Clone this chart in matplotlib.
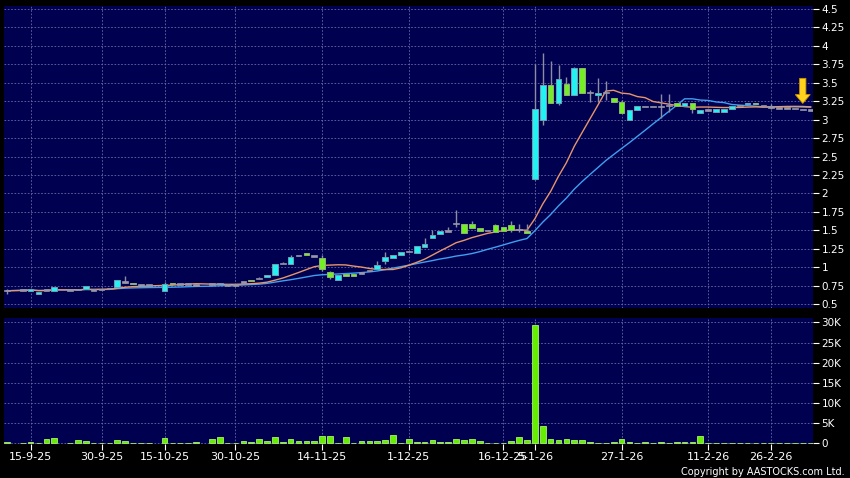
import numpy as np
import pandas as pd
import matplotlib
matplotlib.use("Agg")
import matplotlib.pyplot as plt
from matplotlib.patches import FancyArrow

# candle slot (position on the time axis), OHLC in price, volume in thousands
slot = [0, 2, 3, 4, 5, 6, 8, 9, 10, 11, 12, 13, 14, 15, 16, 17, 18, 20, 21, 22, 23, 24,
        26, 27, 28, 29, 30, 31, 32, 33, 34, 35, 36, 37, 38, 39, 40, 41, 42, 43, 44, 45,
        46, 47, 48, 49, 50, 51, 52, 53, 54, 55, 56, 57, 58, 59, 60, 61, 62, 63, 64, 65,
        66, 67, 68, 69, 70, 71, 72, 73, 74, 75, 76, 77, 78, 79, 80, 81, 82, 83, 84, 85,
        86, 87, 88, 89, 90, 91, 92, 93, 94, 95, 96, 97, 98, 99, 100, 101, 102]

open_ = [0.68, 0.69, 0.68, 0.63, 0.69, 0.67, 0.69, 0.70, 0.71, 0.69, 0.70, 0.71, 0.735, 0.80, 0.79, 0.76, 0.76, 0.68, 0.79, 0.77, 0.77, 0.76,
         0.77, 0.78, 0.76, 0.76, 0.80, 0.83, 0.85, 0.86, 0.90, 1.05, 1.04, 1.16, 1.19, 1.15, 1.13, 0.93, 0.83, 0.91, 0.91, 0.92,
         0.95, 0.97, 1.08, 1.13, 1.16, 1.21, 1.19, 1.27, 1.39, 1.45, 1.49, 1.59, 1.59, 1.58, 1.53, 1.50, 1.57, 1.55, 1.57, 1.51,
         1.49, 2.19, 3.00, 3.47, 3.22, 3.49, 3.33, 3.70, 3.37, 3.33, 3.37, 3.29, 3.24, 3.00, 3.13, 3.18, 3.18, 3.18, 3.19, 3.22,
         3.18, 3.22, 3.09, 3.13, 3.10, 3.10, 3.14, 3.19, 3.21, 3.23, 3.19, 3.17, 3.16, 3.16, 3.15, 3.14, 3.13]

high = [0.71, 0.69, 0.70, 0.66, 0.69, 0.73, 0.69, 0.71, 0.74, 0.69, 0.70, 0.71, 0.825, 0.88, 0.79, 0.76, 0.76, 0.80, 0.79, 0.77, 0.78, 0.76,
        0.77, 0.78, 0.76, 0.76, 0.80, 0.83, 0.86, 0.90, 1.04, 1.07, 1.16, 1.16, 1.19, 1.15, 1.16, 0.95, 0.89, 0.91, 0.91, 0.92,
        0.95, 1.09, 1.20, 1.16, 1.20, 1.21, 1.28, 1.40, 1.50, 1.49, 1.54, 1.78, 1.59, 1.62, 1.53, 1.50, 1.59, 1.55, 1.63, 1.58,
        1.58, 3.76, 3.90, 3.80, 3.74, 3.58, 3.72, 3.70, 3.40, 3.57, 3.52, 3.29, 3.27, 3.13, 3.18, 3.18, 3.18, 3.35, 3.35, 3.22,
        3.22, 3.22, 3.13, 3.13, 3.14, 3.15, 3.19, 3.19, 3.23, 3.23, 3.19, 3.21, 3.16, 3.16, 3.15, 3.14, 3.13]

low = [0.64, 0.69, 0.68, 0.63, 0.69, 0.67, 0.69, 0.70, 0.71, 0.69, 0.70, 0.71, 0.735, 0.79, 0.77, 0.76, 0.76, 0.68, 0.77, 0.77, 0.77, 0.75,
       0.77, 0.78, 0.76, 0.76, 0.80, 0.81, 0.85, 0.86, 0.90, 1.05, 1.04, 1.16, 1.16, 1.15, 0.95, 0.84, 0.82, 0.88, 0.88, 0.92,
       0.95, 0.97, 1.04, 1.13, 1.16, 1.21, 1.19, 1.27, 1.39, 1.45, 1.49, 1.55, 1.46, 1.53, 1.49, 1.50, 1.47, 1.49, 1.47, 1.48,
       1.46, 2.18, 2.93, 3.23, 3.20, 3.33, 3.33, 3.36, 3.24, 3.24, 3.27, 3.24, 3.09, 3.00, 3.13, 3.18, 3.18, 3.02, 3.11, 3.18,
       3.18, 3.09, 3.09, 3.13, 3.10, 3.10, 3.14, 3.19, 3.21, 3.21, 3.19, 3.15, 3.16, 3.16, 3.15, 3.14, 3.13]

close = [0.68, 0.69, 0.70, 0.66, 0.69, 0.73, 0.69, 0.70, 0.74, 0.69, 0.70, 0.71, 0.825, 0.80, 0.77, 0.76, 0.76, 0.77, 0.77, 0.77, 0.77, 0.76,
         0.77, 0.78, 0.76, 0.76, 0.80, 0.81, 0.85, 0.90, 1.04, 1.05, 1.14, 1.16, 1.16, 1.15, 0.97, 0.86, 0.89, 0.88, 0.88, 0.92,
         0.95, 1.03, 1.14, 1.16, 1.20, 1.21, 1.28, 1.31, 1.44, 1.49, 1.49, 1.59, 1.46, 1.53, 1.49, 1.50, 1.47, 1.49, 1.51, 1.51,
         1.46, 3.14, 3.47, 3.23, 3.55, 3.33, 3.70, 3.36, 3.37, 3.36, 3.37, 3.24, 3.09, 3.13, 3.18, 3.18, 3.18, 3.18, 3.19, 3.18,
         3.22, 3.14, 3.13, 3.13, 3.14, 3.15, 3.19, 3.19, 3.23, 3.21, 3.19, 3.17, 3.16, 3.16, 3.15, 3.14, 3.13]

vol_k = [0.4, 0.2, 0.25, 0.1, 1.0, 1.3, 0.1, 0.8, 0.5, 0.05, 0.1, 0.05, 0.75, 0.6, 0.2, 0.05, 0.05, 1.4, 0.1, 0.05, 0.1, 0.4,
         1.15, 1.55, 0.2, 0.05, 0.5, 0.4, 1.1, 0.6, 1.5, 0.4, 1.1, 0.6, 0.65, 0.6, 1.9, 1.9, 0.2, 1.55, 0.2, 0.6,
         0.5, 0.65, 0.8, 2.0, 0.1, 1.1, 0.3, 0.3, 0.8, 0.3, 0.4, 1.0, 0.75, 1.1, 0.6, 0.15, 0.05, 0.2, 0.5, 1.5,
         0.8, 29.3, 4.2, 1.15, 0.75, 1.0, 0.75, 0.75, 0.3, 0.1, 0.2, 0.35, 1.1, 0.25, 0.1, 0.25, 0.1, 0.35, 0.1, 0.25,
         0.25, 0.25, 1.9, 0.05, 0.05, 0.05, 0.05, 0.15, 0.05, 0.05, 0.05, 0.05, 0.05, 0.05, 0.05, 0.05, 0.05]

tick_slots = [3, 12, 20, 29, 40, 51, 63, 67, 78, 89, 97]
tick_labels = ['15-9-25', '30-9-25', '15-10-25', '30-10-25', '14-11-25', '1-12-25',
               '16-12-25', '5-1-26', '27-1-26', '11-2-26', '26-2-26']

price_ticks = [0.5, 0.75, 1, 1.25, 1.5, 1.75, 2, 2.25, 2.5, 2.75, 3, 3.25, 3.5, 3.75, 4, 4.25, 4.5]
vol_ticks = [0, 5, 10, 15, 20, 25, 30]

df = pd.DataFrame({'slot': slot, 'o': open_, 'h': high, 'l': low, 'c': close, 'v': vol_k})
df['ma10'] = df['c'].rolling(10, min_periods=1).mean()
df['ma20'] = df['c'].rolling(20, min_periods=1).mean()

BG = '#000050'
GRID = '#6a6aa8'
CYAN = '#22f2f2'
GREEN = '#72f022'
GREY = '#9898a8'
WICK = '#8c8ca4'

fig = plt.figure(figsize=(8.5, 4.78), dpi=100)
fig.patch.set_facecolor('black')

ax = fig.add_axes([4 / 850, 1 - 308 / 478, 809 / 850, 302 / 478])
axv = fig.add_axes([4 / 850, 1 - 444 / 478, 809 / 850, 126 / 478])

xlim = (-0.38, 102.3)
for a in (ax, axv):
    a.set_facecolor(BG)
    a.set_xlim(*xlim)
    for s in a.spines.values():
        s.set_visible(False)
    a.set_axisbelow(True)
    a.grid(True, color=GRID, linestyle=(0, (2, 2)), linewidth=0.6)
    a.yaxis.tick_right()
    a.tick_params(axis='y', colors='white', labelsize=7.5, length=4, width=0.8, pad=2)
    a.set_xticks(tick_slots)

ax.set_ylim(0.446, 4.541)
ax.set_yticks(price_ticks)
ax.set_yticklabels([f'{t:g}' for t in price_ticks])
ax.tick_params(axis='x', length=0, labelbottom=False)

axv.set_ylim(-0.17, 31.1)
axv.set_yticks(vol_ticks)
axv.set_yticklabels([f'{t}K' if t else '0' for t in vol_ticks])
axv.set_xticklabels(tick_labels)
axv.tick_params(axis='x', colors='white', labelsize=8, length=4, width=0.8, pad=2)

# moving averages
ax.plot(df['slot'], df['ma20'], color='#3f9ff0', lw=1.0, zorder=2)
ax.plot(df['slot'], df['ma10'], color='#e8956a', lw=1.0, zorder=2)

# candles
up = df['c'] > df['o']
down = df['c'] < df['o']
flat = df['c'] == df['o']
ax.vlines(df['slot'], df['l'], df['h'], color=WICK, lw=1.0, zorder=3)
bw = 0.72
ax.bar(df['slot'][up], (df['c'] - df['o'])[up], bottom=df['o'][up], width=bw,
       color=CYAN, edgecolor='#6f9fb5', linewidth=0.7, zorder=4)
ax.bar(df['slot'][down], (df['o'] - df['c'])[down], bottom=df['c'][down], width=bw,
       color=GREEN, edgecolor='#8fb07a', linewidth=0.7, zorder=4)
ax.bar(df['slot'][flat], 0.018, bottom=df['c'][flat] - 0.009, width=bw,
       color=GREY, edgecolor=GREY, linewidth=0.5, zorder=4)

# marker arrow over the latest candle
last = df.iloc[-2]
ax.add_patch(FancyArrow(last['slot'], last['h'] + 0.42, 0, -0.22, width=0.8,
                        head_width=1.9, head_length=0.12, length_includes_head=False,
                        color='#ffd21e', ec='#c89000', lw=0.6, zorder=6))

# volume
axv.bar(df['slot'], df['v'], width=bw, color='#66ee00', edgecolor='#a8f070',
        linewidth=0.6, zorder=3)

fig.text(845 / 850, 1 - 472 / 478, 'Copyright by AASTOCKS.com Ltd.', color='white',
         fontsize=7, ha='right', va='center')

fig.savefig('out.png', dpi=100, facecolor='black')
